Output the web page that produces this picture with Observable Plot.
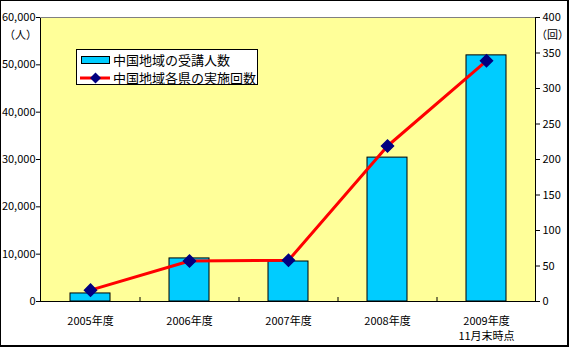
<!DOCTYPE html>
<html><head><meta charset="utf-8">
<script src="https://cdn.jsdelivr.net/npm/d3@7"></script>
<script src="https://cdn.jsdelivr.net/npm/@observablehq/plot@0.6"></script>
<style>
body{margin:0;background:#fff;}
#wrap{position:relative;width:569px;height:347px;font-family:'Noto Sans CJK JP',sans-serif;}
#border{position:absolute;left:0;top:0;width:569px;height:347px;box-sizing:border-box;border-style:solid;border-color:#000;border-width:1px 2px 2px 1px;pointer-events:none;}
.lab{position:absolute;font-size:11px;line-height:11px;color:#000;white-space:nowrap;}
#legend{position:absolute;left:76px;top:49px;width:182px;height:36px;box-sizing:border-box;border:1px solid #000;background:#fff;}
#legend .row{position:absolute;left:0;font-size:13px;line-height:13px;white-space:nowrap;}
</style></head>
<body><div id="wrap"></div>
<script>
const categories = ["2005", "2006", "2007", "2008", "2009"];
const tickLabels = ["2005年度", "2006年度", "2007年度", "2008年度", "2009年度\n11月末時点"];
const people = [1700, 9100, 8450, 30400, 52000];      // 中国地域の受講人数 (left axis, 人)
const sessions = [16, 57, 58, 219, 339];              // 中国地域各県の実施回数 (right axis, 回)
const peopleTicks = [0, 10000, 20000, 30000, 40000, 50000, 60000];
const sessionTicks = [0, 50, 100, 150, 200, 250, 300, 350, 400];
const seriesNames = ["中国地域の受講人数", "中国地域各県の実施回数"];
const unitLeft = "（人）", unitRight = "（回）";

const ratio = 60000 / 400;
const rows = categories.map((c, i) => ({cat: c, people: people[i], sessions: sessions[i]}));
const labelOf = Object.fromEntries(categories.map((c, i) => [c, tickLabels[i]]));

const chart = Plot.plot({
  width: 569, height: 347,
  marginLeft: 40, marginRight: 34, marginTop: 17, marginBottom: 46,
  style: {fontFamily: "'Noto Sans CJK JP', sans-serif", fontSize: "11px", background: "transparent", color: "#000"},
  x: {domain: categories, paddingInner: 0.6, paddingOuter: 0.3, axis: null, label: null},
  y: {domain: [0, 60000], axis: null, label: null},
  marks: [
    Plot.frame({fill: "#FFFF99", stroke: "#000"}),
    Plot.ruleY([60000], {stroke: "#808080"}),
    Plot.barY(rows, {x: "cat", y: "people", fill: "#00CCFF", stroke: "#000", strokeWidth: 1}),
    Plot.ruleX(categories.slice(1), {x: d => d, y1: 0, y2: 0, insetTop: -4, dx: -49.5, stroke: "#000"}),
    Plot.ruleY([0], {stroke: "#000"}),
    Plot.line(rows, {x: "cat", y: d => d.sessions * ratio, stroke: "#FF0000", strokeWidth: 3}),
    Plot.dot(rows, {x: "cat", y: d => d.sessions * ratio, symbol: "diamond2", r: 5.4, fill: "#000080", stroke: "#000080"}),
    Plot.axisY(peopleTicks, {anchor: "left", label: null, tickSize: 4, tickPadding: 1, tickFormat: d => d3.format(",")(d), stroke: "#000"}),
    Plot.axisY(sessionTicks.map(v => v * ratio), {anchor: "right", label: null, tickSize: 4, tickPadding: 3, tickFormat: d => String(d / ratio), stroke: "#000"}),
    Plot.axisX(categories, {anchor: "bottom", label: null, tickSize: 0, tickPadding: 13, tickFormat: d => labelOf[d], lineHeight: 1.35})
  ]
});

const wrap = document.getElementById("wrap");
chart.style.position = "absolute"; chart.style.left = "0"; chart.style.top = "0";
wrap.appendChild(chart);

function addLab(text, left, top) {
  const d = document.createElement("div"); d.className = "lab"; d.textContent = text;
  d.style.left = left + "px"; d.style.top = top + "px"; wrap.appendChild(d);
}
addLab(unitLeft, 4, 29);
addLab(unitRight, 536, 29);

const lg = document.createElement("div"); lg.id = "legend";
lg.innerHTML =
  `<svg width="182" height="36" style="position:absolute;left:0;top:0">
     <rect x="4.5" y="6.5" width="28" height="7" fill="#00CCFF" stroke="#000"/>
     <line x1="3" x2="33" y1="28" y2="28" stroke="#FF0000" stroke-width="3"/>
     <path d="M18.5 22.5 L24 28 L18.5 33.5 L13 28 Z" fill="#000080"/>
   </svg>
   <div class="row" style="left:36px;top:3px">${seriesNames[0]}</div>
   <div class="row" style="left:36px;top:21px">${seriesNames[1]}</div>`;
wrap.appendChild(lg);

const b = document.createElement("div"); b.id = "border"; wrap.appendChild(b);
</script></body></html>
